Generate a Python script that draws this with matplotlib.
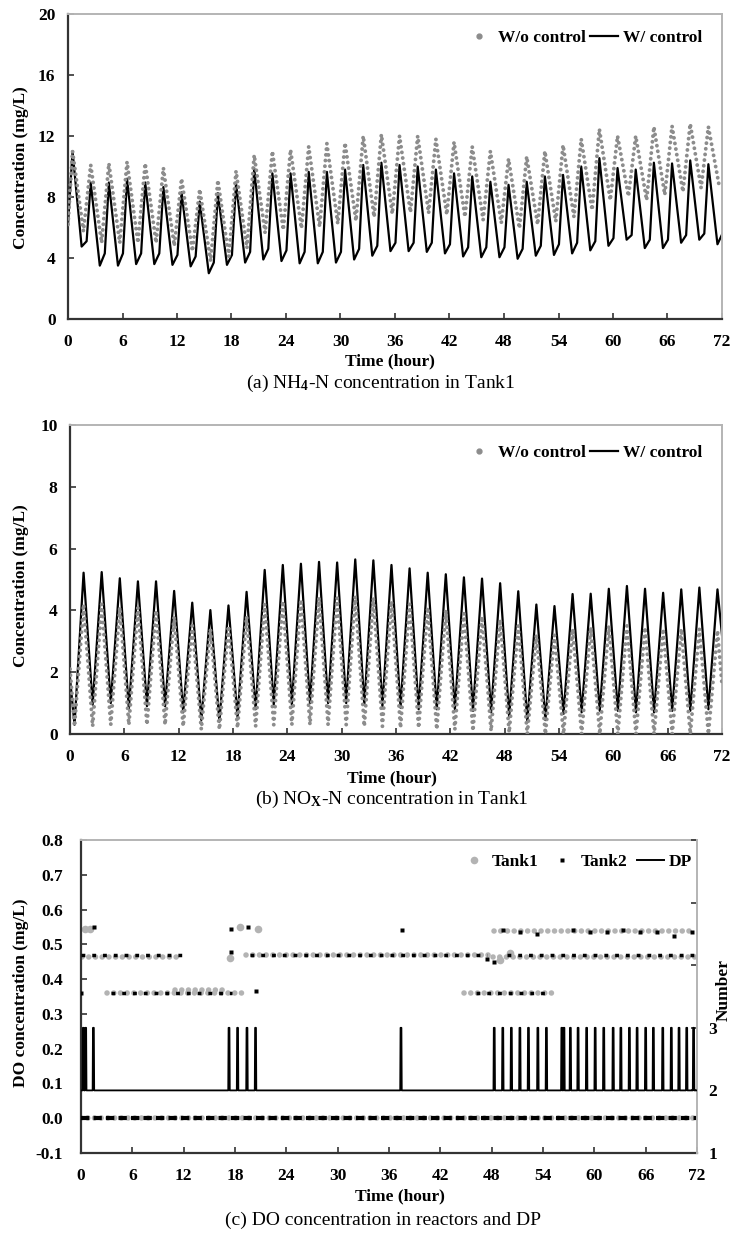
import numpy as np
import matplotlib
matplotlib.use('Agg')
import matplotlib.pyplot as plt
from matplotlib.lines import Line2D

plt.rcParams['font.family'] = ['Liberation Serif', 'DejaVu Serif']
plt.rcParams['font.weight'] = 'bold'
plt.rcParams['mathtext.fontset'] = 'custom'
plt.rcParams['mathtext.rm'] = 'Liberation Serif'
plt.rcParams['mathtext.it'] = 'Liberation Serif:italic'
plt.rcParams['mathtext.bf'] = 'Liberation Serif:bold'

# ---------------- data ----------------
hours_ticks = list(range(0, 73, 6))

# (a) NH4-N in Tank1, one entry per ~2 h cycle (peaks at 0.5, 2.5, ... 70.5 h)
nh4_peak_t = np.arange(0.5, 72, 2.0)
nh4_start = 6.2
nh4_ctrl_peak = [11.0, 8.95, 8.95, 9.2, 8.95, 8.65, 8.3, 7.7, 8.25, 8.9, 9.9, 9.55,
                 9.55, 9.65, 9.65, 9.8, 10.1, 10.25, 10.1, 10.0, 9.8, 9.55, 9.35, 9.0,
                 8.8, 9.0, 9.35, 9.45, 10.0, 10.55, 9.9, 9.8, 10.25, 10.2, 10.4, 10.15]
nh4_ctrl_trough = [4.75, 3.5, 3.5, 3.6, 3.6, 3.55, 3.45, 3.0, 3.55, 3.7, 3.9, 3.8,
                   3.65, 3.65, 3.7, 3.9, 4.15, 4.45, 4.45, 4.4, 4.3, 4.1, 4.05, 4.05,
                   3.95, 4.15, 4.2, 4.3, 4.5, 4.8, 5.2, 4.65, 4.65, 5.0, 5.2, 4.9]
nh4_ctrl_knee = [5.1, 4.3, 4.3, 4.3, 4.3, 4.2, 4.1, 3.7, 4.2, 4.4, 4.6, 4.5,
                 4.4, 4.4, 4.4, 4.6, 4.8, 5.0, 5.0, 5.0, 4.9, 4.7, 4.7, 4.7,
                 4.6, 4.8, 4.9, 5.0, 5.1, 5.3, 5.5, 5.2, 5.2, 5.5, 5.6, 5.6]
nh4_free_peak = [11.0, 10.1, 10.2, 10.3, 10.2, 9.9, 9.2, 8.5, 9.1, 9.7, 10.75, 11.0,
                 11.1, 11.3, 11.5, 11.55, 12.0, 12.1, 12.0, 12.0, 11.8, 11.6, 11.3, 11.0,
                 10.5, 10.65, 11.0, 11.4, 11.8, 12.45, 12.0, 12.0, 12.6, 12.65, 12.8, 12.6]
nh4_free_trough = [5.75, 5.0, 5.0, 5.0, 5.0, 4.8, 4.45, 3.8, 4.1, 4.65, 5.65, 5.85,
                   5.95, 6.05, 6.25, 6.45, 6.7, 6.9, 7.0, 6.95, 6.85, 6.7, 6.5, 6.3,
                   5.95, 6.2, 6.4, 6.7, 7.15, 7.8, 8.05, 7.8, 8.15, 8.35, 8.6, 8.7]

# (b) NOx-N in Tank1 (peaks at 1.5, 3.5, ... 71.5 h; troughs in between)
nox_peak_t = np.arange(1.5, 72, 2.0)
nox_ctrl_start = [1.8, 0.3]       # values at 0 h and 0.5 h
nox_ctrl_end = 3.2                # value at 72 h
nox_ctrl_peak = [5.22, 5.24, 5.04, 4.94, 4.94, 4.63, 4.25, 4.01, 4.16, 4.6, 5.31, 5.47,
                 5.51, 5.57, 5.55, 5.65, 5.62, 5.47, 5.36, 5.22, 5.17, 5.07, 5.03, 4.88,
                 4.62, 4.19, 4.14, 4.53, 4.54, 4.7, 4.79, 4.7, 4.57, 4.68, 4.74, 4.68]
nox_ctrl_trough = [0.95, 1.0, 0.8, 0.9, 0.9, 0.7, 0.45, 0.4, 0.55, 0.8,
                   0.95, 0.95, 1.0, 1.0, 1.0, 0.95, 0.9, 0.85, 0.8, 0.8,
                   0.8, 0.75, 0.7, 0.55, 0.4, 0.45, 0.65, 0.7, 0.75, 0.75,
                   0.7, 0.7, 0.75, 0.75, 0.8]
nox_free_start = [2.1, 0.25]
nox_free_end = 1.6
nox_free_peak = [4.2, 4.2, 4.1, 4.1, 4.0, 3.8, 3.5, 3.4, 3.5, 3.8, 4.2, 4.3,
                 4.35, 4.4, 4.4, 4.45, 4.4, 4.3, 4.2, 4.1, 4.0, 3.9, 3.8, 3.7,
                 3.5, 3.2, 3.2, 3.4, 3.45, 3.5, 3.5, 3.45, 3.4, 3.4, 3.4, 3.35]
nox_free_trough = [0.25, 0.3, 0.3, 0.3, 0.3, 0.25, 0.15, 0.15, 0.2, 0.25,
                   0.3, 0.3, 0.3, 0.3, 0.3, 0.25, 0.25, 0.2, 0.2, 0.15,
                   0.15, 0.1, 0.1, 0.05, 0.0, 0.0, 0.0, 0.0, 0.0, 0.0,
                   0.0, 0.0, 0.0, 0.0, 0.0]

# (c) DO levels: runs of samples (start h, end h, mg/L) plus single samples
tank1_run_start = [0.0, 0.1, 3.0, 11.0, 19.3, 44.8, 48.3, 48.2]
tank1_run_end = [72.0, 11.4, 19.0, 17.0, 47.8, 55.5, 71.8, 72.0]
tank1_run_level = [0.0, 0.465, 0.36, 0.37, 0.468, 0.36, 0.538, 0.465]
tank1_pt_t = [0.5, 1.0, 17.4, 18.6, 20.7, 49.0, 50.2]
tank1_pt_v = [0.545, 0.545, 0.46, 0.55, 0.545, 0.455, 0.475]

tank2_run_start = [0.0, 0.0, 3.5, 19.7, 46.2, 49.8]
tank2_run_end = [72.0, 12.0, 17.7, 47.5, 54.6, 72.0]
tank2_run_level = [0.0, 0.468, 0.36, 0.47, 0.36, 0.468]
tank2_pt_t = [0.0, 1.5, 17.5, 17.5, 19.5, 20.5, 37.5, 47.5, 48.3,
              49.3, 51.3, 53.3, 57.5, 59.5, 61.5, 63.3, 65.3, 67.3, 69.3, 71.4]
tank2_pt_v = [0.36, 0.55, 0.545, 0.478, 0.55, 0.365, 0.54, 0.458, 0.45,
              0.54, 0.535, 0.53, 0.54, 0.535, 0.535, 0.54, 0.535, 0.535, 0.525, 0.535]

# DP number switches from 2 to 3 at these hours
dp_spike_t = [0.27, 0.55, 1.45, 17.3, 18.3, 19.4, 20.4, 37.4,
              48.3, 49.3, 50.3, 51.3, 52.3, 53.4, 54.4,
              56.2, 56.45, 57.2, 58.1, 59.1, 60.1, 61.1, 62.2, 63.1, 64.1,
              65.0, 66.0, 66.9, 68.0, 69.0, 69.9, 70.8, 71.6]
dp_base, dp_high = 2, 3

# ---------------- styling helpers ----------------
DARK = '#333333'
LIGHT = '#b4b4b4'
GRAY_DOT = '#8c8c8c'
W, H = 736, 1235


def fx(px):
    return px / W


def fy(py):
    return 1 - py / H


def style_axes(ax, xpad=11, ypad=9):
    for s in ['left', 'bottom']:
        ax.spines[s].set_color(DARK)
        ax.spines[s].set_linewidth(1.6)
    for s in ['top', 'right']:
        ax.spines[s].set_color(LIGHT)
        ax.spines[s].set_linewidth(1.4)
    ax.tick_params(direction='in', length=4, width=1.2, color=DARK, labelsize=12.5)
    ax.tick_params(axis='x', pad=xpad)
    ax.tick_params(axis='y', pad=ypad)
    ax.set_xlim(0, 72)
    ax.set_xticks(hours_ticks)


fig = plt.figure(figsize=(7.36, 12.35), dpi=100)

# ---------------- (a) ----------------
ax_a = fig.add_axes([fx(68), fy(319), fx(722 - 68), (319 - 14) / H])
t_c, v_c = [0.0], [nh4_start]
for t, p, lo, kn in zip(nh4_peak_t, nh4_ctrl_peak, nh4_ctrl_trough, nh4_ctrl_knee):
    t_c += [t, t + 1.0, t + 1.55]
    v_c += [p, lo, kn]
t_f, v_f = [0.0], [nh4_start]
for t, p, lo in zip(nh4_peak_t, nh4_free_peak, nh4_free_trough):
    t_f += [t, t + 1.2]
    v_f += [p, lo]
ax_a.plot(t_c, v_c, color='black', lw=1.6, zorder=2)
ax_a.plot(t_f, v_f, color=GRAY_DOT, lw=2.8, linestyle=(0, (0.01, 1.45)),
          dash_capstyle='round', zorder=3)
ax_a.set_ylim(0, 20)
ax_a.set_yticks(range(0, 21, 4))
style_axes(ax_a)
h_a = [Line2D([], [], marker='o', ls='none', color=GRAY_DOT, ms=3.5),
       Line2D([], [], color='black', lw=1.6)]
ax_a.legend(h_a, ['W/o control', 'W/ control'], loc='center right',
            bbox_to_anchor=((702 - 68) / 654, (319 - 38) / 305), ncol=2,
            frameon=False, handlelength=1.6, handletextpad=0.3, columnspacing=0.2,
            borderpad=0, borderaxespad=0, prop={'size': 12.5, 'weight': 'bold'})
fig.text(fx(21), fy(168), 'Concentration (mg/L)', rotation=90, ha='center',
         va='center', fontsize=12.5, fontweight='bold')
fig.text(fx(390), fy(361), 'Time (hour)', ha='center', va='center',
         fontsize=12.5, fontweight='bold')
fig.text(fx(381), fy(383), r'(a) NH$_4$-N concentration in Tank1', ha='center',
         va='center', fontsize=14, fontweight='normal')

# ---------------- (b) ----------------
ax_b = fig.add_axes([fx(70), fy(734), fx(722 - 70), (734 - 425) / H])
t_c, v_c = [0.0, 0.5], list(nox_ctrl_start)
for i, (t, p) in enumerate(zip(nox_peak_t, nox_ctrl_peak)):
    t_c.append(t)
    v_c.append(p)
    if i < len(nox_ctrl_trough):
        t_c.append(t + 1.0)
        v_c.append(nox_ctrl_trough[i])
t_c.append(72.0)
v_c.append(nox_ctrl_end)
t_f, v_f = [0.0, 0.5], list(nox_free_start)
for i, (t, p) in enumerate(zip(nox_peak_t, nox_free_peak)):
    t_f.append(t)
    v_f.append(p)
    if i < len(nox_free_trough):
        t_f.append(t + 1.0)
        v_f.append(nox_free_trough[i])
t_f.append(72.0)
v_f.append(nox_free_end)
ax_b.plot(t_c, v_c, color='black', lw=1.6, zorder=2)
ax_b.plot(t_f, v_f, color=GRAY_DOT, lw=2.8, linestyle=(0, (0.01, 1.55)),
          dash_capstyle='round', zorder=3)
ax_b.set_ylim(0, 10)
ax_b.set_yticks(range(0, 11, 2))
style_axes(ax_b)
ax_b.legend(h_a, ['W/o control', 'W/ control'], loc='center right',
            bbox_to_anchor=((702 - 70) / 652, (734 - 453) / 309), ncol=2,
            frameon=False, handlelength=1.6, handletextpad=0.3, columnspacing=0.2,
            borderpad=0, borderaxespad=0, prop={'size': 12.5, 'weight': 'bold'})
fig.text(fx(21), fy(586), 'Concentration (mg/L)', rotation=90, ha='center',
         va='center', fontsize=12.5, fontweight='bold')
fig.text(fx(392), fy(778), 'Time (hour)', ha='center', va='center',
         fontsize=12.5, fontweight='bold')
fig.text(fx(392), fy(799), r'(b) NO$_\mathrm{X}$-N concentration in Tank1',
         ha='center', va='center', fontsize=14, fontweight='normal')

# ---------------- (c) ----------------
ax_c = fig.add_axes([fx(81), fy(1153), fx(697 - 81), (1153 - 840) / H])
T1_COL = '#b3b3b3'
for t0, t1, lv in zip(tank1_run_start, tank1_run_end, tank1_run_level):
    ax_c.plot([t0, t1], [lv, lv], color=T1_COL, lw=4.0,
              linestyle=(0, (0.01, 1.2)), dash_capstyle='round', zorder=2)
ax_c.plot(tank1_pt_t, tank1_pt_v, 'o', color=T1_COL, ms=5.5, mec='none', zorder=2)
for t0, t1, lv in zip(tank2_run_start, tank2_run_end, tank2_run_level):
    if lv == 0:
        ax_c.plot([t0, t1], [lv, lv], color='black', lw=3.0,
                  linestyle=(0, (2.0, 1.0)), dash_capstyle='butt', zorder=3)
    else:
        ax_c.plot([t0, t1], [lv, lv], color='black', lw=2.5,
                  linestyle=(0, (1.1, 2.0)), dash_capstyle='butt', zorder=3)
ax_c.plot(tank2_pt_t, tank2_pt_v, 's', color='black', ms=3.0, mec='none', zorder=3)
ax_c.set_ylim(-0.1, 0.8)
ax_c.set_yticks(np.arange(-0.1, 0.81, 0.1))
ax_c.yaxis.set_major_formatter(matplotlib.ticker.FormatStrFormatter('%.1f'))
style_axes(ax_c, xpad=11, ypad=13)
ax_c.spines['right'].set_visible(False)

ax_d = ax_c.twinx()
t_dp, v_dp = [0.0], [dp_base]
for s in dp_spike_t:
    t_dp += [s - 0.09, s - 0.05, s + 0.05, s + 0.09]
    v_dp += [dp_base, dp_high, dp_high, dp_base]
t_dp.append(72.0)
v_dp.append(dp_base)
ax_d.plot(t_dp, v_dp, color='black', lw=1.3, zorder=4)
ax_d.set_ylim(1, 6)
ax_d.set_yticks(range(1, 7))
ax_d.set_yticklabels(['1', '2', '3', '', '', ''])
for s in ['left', 'top', 'bottom']:
    ax_d.spines[s].set_visible(False)
ax_d.spines['right'].set_color(LIGHT)
ax_d.spines['right'].set_linewidth(1.4)
ax_c.spines['top'].set_color(LIGHT)
ax_d.tick_params(direction='in', length=4, width=1.2, color=DARK, labelsize=12.5, pad=8)
ax_d.set_xlim(0, 72)
h_c = [Line2D([], [], marker='o', ls='none', color=T1_COL, ms=5.5, mec='none'),
       Line2D([], [], marker='s', ls='none', color='black', ms=3.0, mec='none'),
       Line2D([], [], color='black', lw=1.4)]
ax_d.legend(h_c, ['Tank1', 'Tank2', 'DP'], loc='center right',
            bbox_to_anchor=((692 - 81) / 616, (1153 - 862) / 313), ncol=3,
            frameon=False, handlelength=1.5, handletextpad=0.3, columnspacing=0.6,
            borderpad=0, borderaxespad=0, prop={'size': 12.5, 'weight': 'bold'})
fig.text(fx(21), fy(993), 'DO concentration (mg/L)', rotation=90, ha='center',
         va='center', fontsize=12.5, fontweight='bold')
fig.text(fx(724), fy(990), 'Number', rotation=90, ha='center', va='center',
         fontsize=12.5, fontweight='bold')
fig.text(fx(400), fy(1196), 'Time (hour)', ha='center', va='center',
         fontsize=12.5, fontweight='bold')
fig.text(fx(383), fy(1220), '(c) DO concentration in reactors and DP', ha='center',
         va='center', fontsize=14, fontweight='normal')

fig.savefig('out.png', dpi=100)
